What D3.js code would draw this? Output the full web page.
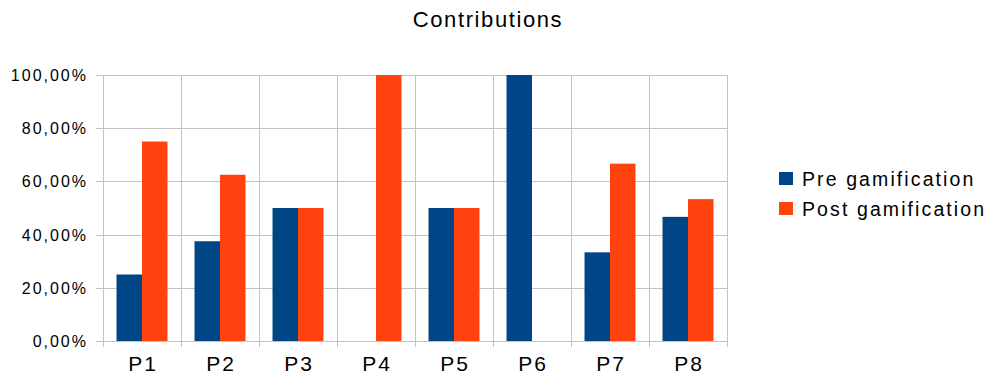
<!DOCTYPE html>
<html>
<head>
<meta charset="utf-8">
<script src="https://cdn.jsdelivr.net/npm/d3@7"></script>
<style>
  html, body { margin: 0; padding: 0; background: #fff; }
  svg { display: block; font-family: "Liberation Sans", Arial, sans-serif; }
</style>
</head>
<body>
<svg id="chart" width="993" height="378"></svg>
<script>
// Participants and share of contributions before / after gamification
const categories = ["P1", "P2", "P3", "P4", "P5", "P6", "P7", "P8"];
const preGamification  = [0.25, 0.375, 0.5, 0.0, 0.5, 1.0, 0.3333, 0.4667];
const postGamification = [0.75, 0.625, 0.5, 1.0, 0.5, 0.0, 0.6667, 0.5333];
const seriesNames = ["Pre gamification", "Post gamification"];
const seriesColors = ["#004586", "#ff420e"];
const yTicks = [0, 0.2, 0.4, 0.6, 0.8, 1.0];

const svg = d3.select("#chart");
const plot = { left: 103, right: 727, top: 75, bottom: 341 };

const x = d3.scaleBand().domain(categories).range([plot.left, plot.right]).padding(0);
const x1 = d3.scaleBand().domain(seriesNames).range([0, x.bandwidth()])
  .paddingInner(0).paddingOuter(0.53);
const y = d3.scaleLinear().domain([0, 1]).range([plot.bottom, plot.top]);

const gridColor = "#c3c3c3";
const fmt = v => d3.format(".2f")(v * 100).replace(".", ",") + "%";

// Horizontal grid lines with small tick marks on the left
const grid = svg.append("g").attr("shape-rendering", "crispEdges");
grid.selectAll("line.h").data(yTicks).join("line")
  .attr("x1", plot.left - 7).attr("x2", plot.right)
  .attr("y1", d => Math.round(y(d)) + 0.5).attr("y2", d => Math.round(y(d)) + 0.5)
  .attr("stroke", gridColor).attr("stroke-width", 1);

// Vertical grid lines on category boundaries, extending below the axis
const bounds = categories.map(c => x(c)).concat([plot.right]);
grid.selectAll("line.v").data(bounds).join("line")
  .attr("x1", d => Math.round(d) + 0.5).attr("x2", d => Math.round(d) + 0.5)
  .attr("y1", plot.top).attr("y2", plot.bottom + 6)
  .attr("stroke", gridColor).attr("stroke-width", 1);

// Bars
const series = [preGamification, postGamification];
series.forEach((vals, si) => {
  svg.append("g").selectAll("rect").data(categories).join("rect")
    .attr("x", c => x(c) + x1(seriesNames[si]))
    .attr("width", x1.bandwidth())
    .attr("y", (c, i) => y(vals[i]))
    .attr("height", (c, i) => y(0) - y(vals[i]))
    .attr("fill", seriesColors[si]);
});

// Y axis labels
svg.append("g").selectAll("text").data(yTicks).join("text")
  .attr("x", 88).attr("y", d => y(d) + 6)
  .attr("text-anchor", "end")
  .attr("font-size", 16).attr("letter-spacing", "2px")
  .attr("fill", "#000")
  .text(fmt);

// X axis labels
svg.append("g").selectAll("text").data(categories).join("text")
  .attr("x", c => x(c) + x.bandwidth() / 2 + 1)
  .attr("y", 371)
  .attr("text-anchor", "middle")
  .attr("font-size", 21).attr("letter-spacing", "2px")
  .attr("fill", "#000")
  .text(c => c);

// Title
svg.append("text")
  .attr("x", 488).attr("y", 27)
  .attr("text-anchor", "middle")
  .attr("font-size", 22).attr("letter-spacing", "1.6px")
  .attr("fill", "#000")
  .text("Contributions");

// Legend
const legend = svg.append("g").selectAll("g").data(seriesNames).join("g")
  .attr("transform", (d, i) => `translate(779, ${172 + i * 30})`);
legend.append("rect").attr("width", 14).attr("height", 13)
  .attr("fill", (d, i) => seriesColors[i]);
legend.append("text")
  .attr("x", 23).attr("y", 14)
  .attr("font-size", 19.5).attr("letter-spacing", "2.1px")
  .attr("fill", "#000")
  .text(d => d);
</script>
</body>
</html>
